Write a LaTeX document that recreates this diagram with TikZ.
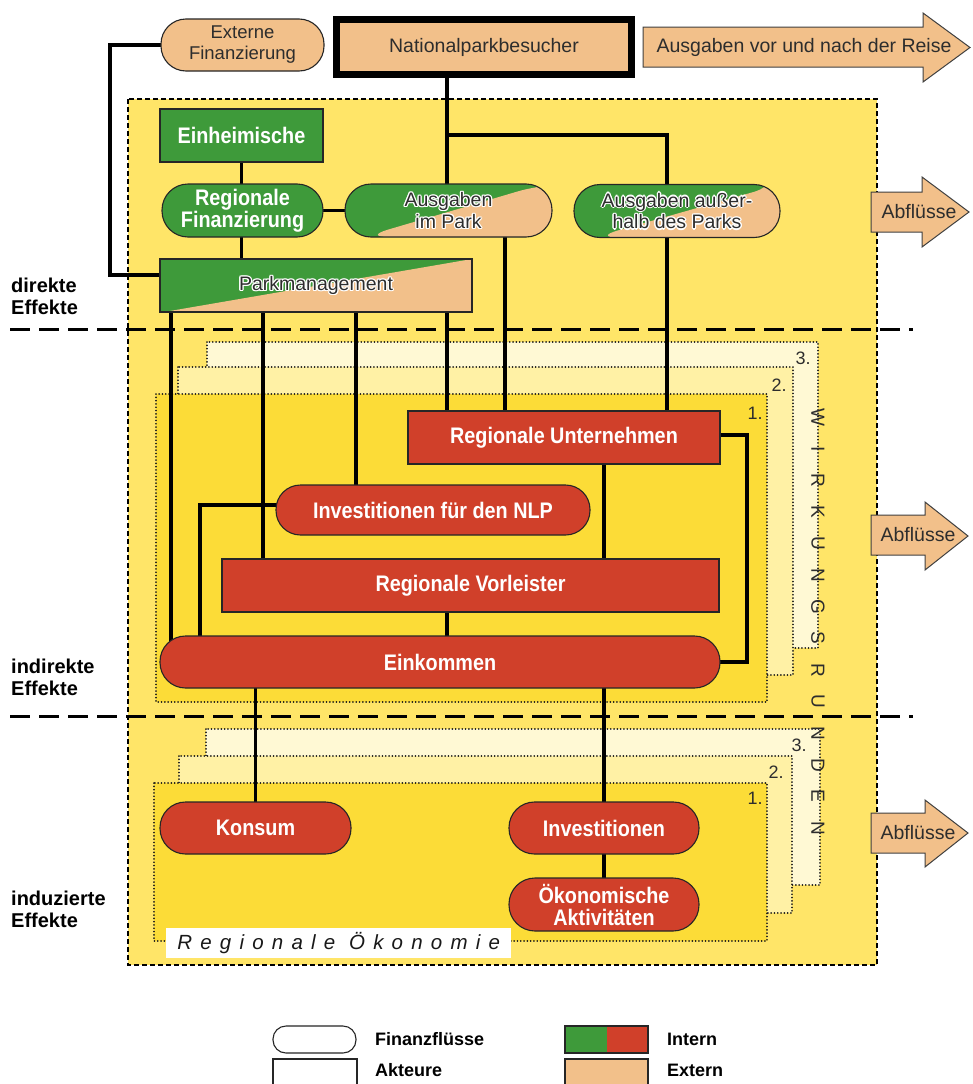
\documentclass[tikz,border=0pt]{standalone}
\usepackage{fontspec}
\setmainfont{Liberation Sans}
\newfontfamily\condf[FakeStretch=0.88]{Liberation Sans}
\newfontfamily\spacedf[LetterSpace=40]{Liberation Sans}
\usetikzlibrary{calc}
\definecolor{peach}{RGB}{242,192,138}
\definecolor{grn}{RGB}{62,154,58}
\definecolor{rd}{RGB}{208,64,42}
\definecolor{ylw}{RGB}{255,229,104}
\definecolor{lay1}{RGB}{252,220,55}
\definecolor{lay2}{RGB}{255,241,165}
\definecolor{lay3}{RGB}{255,249,212}
\definecolor{txt}{RGB}{45,45,45}
\newcommand\hw[1]{\rlap{\textcolor{white}{#1}}}
\newcommand\halo[1]{\leavevmode
  \hw{\kern-1.3pt#1}\hw{\kern1.3pt#1}\hw{\raisebox{1.3pt}{#1}}\hw{\raisebox{-1.3pt}{#1}}%
  \hw{\raisebox{0.9pt}{\kern0.9pt#1}}\hw{\raisebox{0.9pt}{\kern-0.9pt#1}}%
  \hw{\raisebox{-0.9pt}{\kern0.9pt#1}}\hw{\raisebox{-0.9pt}{\kern-0.9pt#1}}#1}
\pgfdeclarelayer{bg}
\pgfdeclarelayer{conn}
\pgfsetlayers{bg,conn,main}
\tikzset{
  base/.style={draw=black!85, line width=1.1pt, inner sep=0pt, align=center},
  pill/.style={base, rounded corners=#1},
  boldfont/.style={font={\condf\bfseries\fontsize{22.5pt}{22pt}\selectfont}, text=white},
  regfont/.style={font={\fontsize{19.5pt}{20.5pt}\selectfont}, text=txt},
  grnnode/.style={fill=grn, boldfont},
  rednode/.style={fill=rd, boldfont},
  extnode/.style={fill=peach, regfont},
  splitfill/.style 2 args={fill=grn, regfont, path picture={\fill[peach]
     ($(path picture bounding box.south west)+(#1,0pt)$) --
     (path picture bounding box.south east) --
     (path picture bounding box.north east) --
     ($(path picture bounding box.north east)+(#2,0pt)$) -- cycle;}},
  conn/.style={line width=3.6pt, black},
  layer/.style={draw=black!90, line width=1.7pt, dash pattern=on 0.1pt off 3.2pt, line cap=round},
  sep/.style={line width=3pt, dash pattern=on 20pt off 9pt},
  arrowbox/.style={fill=peach, draw=black!75, line width=1pt, line join=miter},
  numlbl/.style={font={\fontsize{18pt}{18pt}\selectfont}, text=txt},
  sidelbl/.style={font={\bfseries\fontsize{20pt}{22pt}\selectfont}, align=left, inner sep=0pt, anchor=west},
  legtxt/.style={font={\bfseries\fontsize{18pt}{18pt}\selectfont}, anchor=west, inner sep=0pt},
}
\begin{document}
\begin{tikzpicture}[x=1pt,y=-1pt]
\useasboundingbox (0,0) rectangle (972,1084);

% ---------------- background regions ----------------
\begin{pgfonlayer}{bg}
\fill[white] (0,0) rectangle (972,1084);
\fill[ylw] (128,99) rectangle (877,965);
\draw[line width=1.6pt, dash pattern=on 5pt off 3pt] (128,99) rectangle (877,965);
% indirect rounds
\filldraw[fill=lay3, layer] (207,342) rectangle (818,648);
\filldraw[fill=lay2, layer] (178,367) rectangle (793,675);
\filldraw[fill=lay1, layer] (156,394) rectangle (767,702);
% induced rounds
\filldraw[fill=lay3, layer] (206,729) rectangle (820,885);
\filldraw[fill=lay2, layer] (179,756) rectangle (792,913);
\filldraw[fill=lay1, layer] (154,783) rectangle (767,941);
\node[numlbl] (n3a) at (803,358) {3.};
\node[numlbl] (n2a) at (779,385) {2.};
\node[numlbl] (n1a) at (755,413) {1.};
\node[numlbl] (n3b) at (799,745) {3.};
\node[numlbl] (n2b) at (776,772) {2.};
\node[numlbl] (n1b) at (755,798) {1.};
\foreach \ch/\yy in {W/417, I/449, R/480, K/512, U/543, N/575, G/607, S/638, R/670, U/701, N/733, D/765, E/796, N/828}
  \node[rotate=-90, font={\fontsize{19pt}{19pt}\selectfont}, text=txt] (w\yy) at (818,\yy) {\ch};
% separators
\draw[sep] (10,329) -- (913,329);
\draw[sep] (10,716) -- (913,716);
\end{pgfonlayer}

% ---------------- nodes ----------------
\node[pill=25pt, extnode, font={\fontsize{18.5pt}{21pt}\selectfont}, minimum width=163pt, minimum height=52pt] (ext) at (242.5,45) {Externe\\Finanzierung};
\node[base, extnode, draw=black, line width=7pt, minimum width=295pt, minimum height=55pt] (npb) at (484,47) {Nationalparkbesucher};

\node[base, grnnode, minimum width=163pt, minimum height=53pt] (einh) at (241.5,135.5) {Einheimische};
\node[pill=26pt, grnnode, minimum width=161pt, minimum height=53pt] (regfin) at (242.5,210.5) {Regionale\\Finanzierung};
\node[pill=26pt, splitfill={18pt}{-9pt}, minimum width=207pt, minimum height=53pt] (aip) at (448.5,210.5) {\halo{Ausgaben}\\\halo{im Park}};
\node[pill=26pt, splitfill={19pt}{0pt}, minimum width=206pt, minimum height=53pt] (aap) at (677,211) {\halo{Ausgaben au\ss er-}\\\halo{halb des Parks}};
\node[base, splitfill={4pt}{0pt}, minimum width=312pt, minimum height=53pt] (pm) at (316,285.5) {\halo{Parkmanagement}};

\node[base, rednode, minimum width=312pt, minimum height=53pt] (ru) at (564,437.5) {Regionale Unternehmen};
\node[pill=24.5pt, rednode, minimum width=314pt, minimum height=50pt] (nlp) at (433,510) {Investitionen f\"ur den NLP};
\node[base, rednode, minimum width=497pt, minimum height=53pt] (vor) at (470.5,585.5) {Regionale Vorleister};
\node[pill=25.5pt, rednode, minimum width=560pt, minimum height=52pt] (eink) at (440,662) {Einkommen};
\node[pill=25.5pt, rednode, minimum width=191pt, minimum height=52pt] (kons) at (255.5,828) {Konsum};
\node[pill=25.5pt, rednode, minimum width=190pt, minimum height=52pt] (inv) at (604,828) {Investitionen};
\node[pill=26pt, rednode, minimum width=190pt, minimum height=53pt] (oek) at (604,904.5) {\"Okonomische\\Aktivit\"aten};

\node[fill=white, anchor=west, inner sep=0pt, minimum width=345pt, minimum height=30pt, text=black!90, font={\spacedf\itshape\fontsize{20.5pt}{20pt}\selectfont}] (rok) at (166,943) {Regionale \"Okonomie};

% ---------------- connectors ----------------
\coordinate (xA) at (667,135);
\coordinate (xB) at (505,0);
\coordinate (xC) at (171,0);
\coordinate (xD) at (263,0);
\coordinate (xE) at (356,0);
\coordinate (xF) at (447,0);
\coordinate (xG) at (604,0);
\coordinate (e1) at (110,275);
\coordinate (n1) at (200,505);
\coordinate (r1) at (747,435);
\begin{pgfonlayer}{conn}
\draw[conn] (xF |- npb.center) -- (xF |- aip.center);
\draw[conn] (xF |- xA) -- (xA) -- (xA |- aap.center);
\draw[conn] (ext.center) -| (e1) -- (e1 -| pm.center);
\draw[conn] (einh.center) -- (einh.center |- regfin.center);
\draw[conn] (einh.center |- regfin.center) -- (einh.center |- pm.center);
\draw[conn] (regfin.center) -- (aip.center);
\draw[conn] (xB |- aip.center) -- (xB |- ru.center);
\draw[conn] (xA |- aap.center) -- (xA |- ru.center);
\draw[conn] (xC |- pm.center) -- (xC |- eink.center);
\draw[conn] (xD |- pm.center) -- (xD |- vor.center);
\draw[conn] (xE |- pm.center) -- (xE |- nlp.center);
\draw[conn] (xF |- pm.center) -- (xF |- ru.center);
\draw[conn] (n1 -| nlp.center) -- (n1) -- (n1 |- eink.center);
\draw[conn] (xG |- ru.center) -- (xG |- vor.center);
\draw[conn] (r1 -| ru.center) -- (r1) -- (r1 |- eink.center) -- (eink.center);
\draw[conn] (xF |- vor.center) -- (xF |- eink.center);
\draw[conn] (kons.center |- eink.center) -- (kons.center);
\draw[conn] (inv.center |- eink.center) -- (inv.center);
\draw[conn] (inv.center) -- (oek.center);
\end{pgfonlayer}

% ---------------- outflow arrows ----------------
\draw[arrowbox] (643,27) -- (923,27) -- (923,13) -- (970,47.5) -- (923,82) -- (923,67) -- (643,67) -- cycle;
\node[regfont] (reise) at (804,47) {Ausgaben vor und nach der Reise};
\draw[arrowbox] (871,192) -- (922,192) -- (922,177) -- (969,212) -- (922,247) -- (922,232) -- (871,232) -- cycle;
\node[regfont] (abf1) at (919,212) {Abfl\"usse};
\draw[arrowbox] (871,515) -- (925,515) -- (925,502) -- (968,536) -- (925,570) -- (925,555) -- (871,555) -- cycle;
\node[regfont] (abf2) at (918,535) {Abfl\"usse};
\draw[arrowbox] (871,813) -- (925,813) -- (925,800) -- (968,833) -- (925,867) -- (925,853) -- (871,853) -- cycle;
\node[regfont] (abf3) at (918,833) {Abfl\"usse};

% ---------------- side labels ----------------
\node[sidelbl] (ld) at (11,296) {direkte\\Effekte};
\node[sidelbl] (li) at (11,677) {indirekte\\Effekte};
\node[sidelbl] (lu) at (11,909) {induzierte\\Effekte};

% ---------------- legend ----------------
\node[pill=13pt, fill=white, minimum width=83pt, minimum height=27pt] (lgpill) at (314.5,1039.5) {};
\node[base, fill=white, minimum width=84pt, minimum height=36pt] (lgrect) at (315,1077) {};
\node[base, fill=grn, minimum width=83pt, minimum height=27pt,
  path picture={\fill[rd] (path picture bounding box.north) rectangle (path picture bounding box.south east);}] (lgint) at (606.5,1039.5) {};
\node[base, fill=peach, minimum width=83pt, minimum height=36pt] (lgext) at (606.5,1077) {};
\node[legtxt] (tfin) at (375,1039) {Finanzfl\"usse};
\node[legtxt] (takt) at (375,1070) {Akteure};
\node[legtxt] (tint) at (667,1039) {Intern};
\node[legtxt] (text) at (667,1070) {Extern};
\end{tikzpicture}
\end{document}
